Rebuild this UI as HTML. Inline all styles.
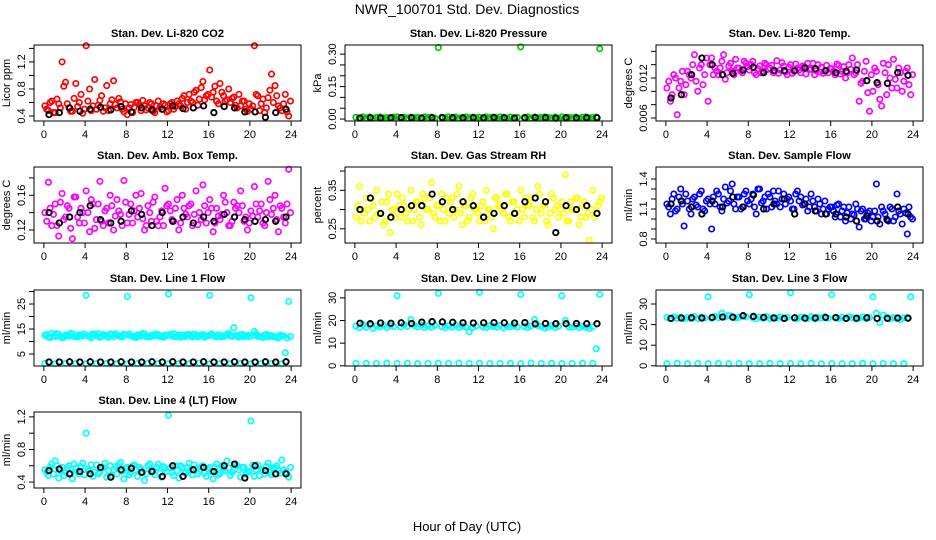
<!DOCTYPE html>
<html><head><meta charset="utf-8"><style>
body{margin:0;background:#fff;}
svg{display:block;font-family:"Liberation Sans",sans-serif;}
</style></head><body>
<svg id="chart" width="936" height="540" viewBox="0 0 936 540" xmlns="http://www.w3.org/2000/svg">
<rect width="936" height="540" fill="#fff"/>
<text x="467" y="14" font-size="14" text-anchor="middle">NWR_100701  Std. Dev. Diagnostics</text>
<text x="467" y="531" font-size="13" text-anchor="middle">Hour of Day (UTC)</text>
</svg>
<script>
// ---- data: 72 colored samples (every 1/3 hour), 24 black samples (hourly) ----
const co2Red = [0.55,0.48,0.62, 0.45,0.58,1.20, 0.90,0.52,0.47, 0.88,0.60,0.44, 1.44,0.80,0.55, 0.50,0.63,0.47, 0.85,0.58,0.92, 0.52,0.61,0.46, 0.42,0.57,0.53, 0.60,0.48,0.55, 0.52,0.58,0.45, 0.62,0.50,0.56, 0.48,0.60,0.54, 0.58,0.66,0.50, 0.72,0.60,0.78, 0.65,0.91,0.70, 1.08,0.75,0.62, 0.88,0.70,0.64, 0.60,0.68,0.52, 0.55,0.62,0.47, 0.50,1.44,0.70, 0.58,0.45,0.67, 1.02,0.85,0.55, 0.48,0.72,0.40];
const co2Red2 = [0.50,0.60,0.45, 0.65,0.52,0.84, 0.58,0.47,0.66, 0.54,0.72,0.50, 0.62,0.48,0.94, 0.56,0.70,0.52, 0.48,0.64,0.57, 0.66,0.50,0.58, 0.52,0.45,0.60, 0.57,0.63,0.49, 0.60,0.47,0.55, 0.53,0.58,0.46, 0.58,0.50,0.62, 0.55,0.70,0.60, 0.62,0.75,0.56, 0.82,0.64,0.72, 0.68,0.84,0.58, 0.75,0.62,0.80, 0.66,0.56,0.72, 0.62,0.50,0.58, 0.55,0.72,0.48, 0.65,0.52,0.78, 0.60,0.70,0.52, 0.58,0.46,0.62];
const co2Black = [0.42,0.45,0.52,0.47,0.50,0.53,0.49,0.54,0.46,0.52,0.49,0.50,0.55,0.51,0.52,0.55,0.45,0.54,0.52,0.46,0.46,0.38,0.45,0.50];
const presGreen = [0.008,0.005,0.010, 0.006,0.009,0.004, 0.008,0.010,0.006, 0.007,0.005,0.009, 0.010,0.006,0.008, 0.005,0.009,0.007, 0.008,0.006,0.010, 0.007,0.009,0.005, 0.330,0.008,0.006, 0.010,0.007,0.009, 0.005,0.008,0.010, 0.006,0.009,0.007, 0.008,0.005,0.010, 0.007,0.009,0.006, 0.010,0.008,0.005, 0.009,0.006,0.008, 0.333,0.007,0.010, 0.005,0.009,0.006, 0.008,0.010,0.007, 0.006,0.009,0.005, 0.010,0.007,0.008, 0.006,0.009,0.005, 0.008,0.010,0.006, 0.007,0.009,0.325];
const presBlack = [0.005,0.006,0.005,0.006,0.007,0.006,0.005,0.006,0.007,0.006,0.005,0.006,0.006,0.007,0.006,0.005,0.006,0.007,0.006,0.004,0.006,0.005,0.006,0.006];
const tempMag = [0.0105,0.0085,0.0125, 0.0065,0.0115,0.0095, 0.0130,0.0120,0.0155, 0.0100,0.0140,0.0125, 0.0085,0.0150,0.0135, 0.0125,0.0145,0.0118, 0.0138,0.0130,0.0148, 0.0135,0.0128,0.0142, 0.0132,0.0145,0.0125, 0.0138,0.0130,0.0140, 0.0135,0.0128,0.0146, 0.0132,0.0138,0.0125, 0.0140,0.0130,0.0135, 0.0128,0.0137,0.0142, 0.0133,0.0125,0.0140, 0.0136,0.0130,0.0128, 0.0134,0.0125,0.0139, 0.0130,0.0120,0.0140, 0.0150,0.0128,0.0085, 0.0115,0.0145,0.0070, 0.0100,0.0130,0.0088, 0.0142,0.0095,0.0120, 0.0148,0.0105,0.0128, 0.0115,0.0135,0.0095];
const tempMag2 = [0.0115,0.0095,0.0120, 0.0105,0.0130,0.0110, 0.0125,0.0140,0.0115, 0.0135,0.0110,0.0150, 0.0140,0.0125,0.0130, 0.0135,0.0155,0.0128, 0.0142,0.0125,0.0135, 0.0130,0.0145,0.0137, 0.0140,0.0128,0.0134, 0.0128,0.0142,0.0133, 0.0139,0.0131,0.0127, 0.0143,0.0129,0.0136, 0.0127,0.0141,0.0132, 0.0138,0.0126,0.0133, 0.0142,0.0131,0.0129, 0.0127,0.0139,0.0134, 0.0130,0.0141,0.0126, 0.0137,0.0128,0.0133, 0.0125,0.0140,0.0112, 0.0130,0.0098,0.0125, 0.0135,0.0110,0.0078, 0.0128,0.0140,0.0105, 0.0118,0.0135,0.0100, 0.0130,0.0110,0.0125];
const tempBlack = [0.0090,0.0095,0.0125,0.0150,0.0140,0.0125,0.0127,0.0132,0.0136,0.0128,0.0131,0.0131,0.0131,0.0135,0.0134,0.0131,0.0128,0.0130,0.0132,0.0116,0.0113,0.0112,0.0128,0.0124];
const boxMag = [0.140,0.175,0.125, 0.150,0.113,0.162, 0.135,0.145,0.110, 0.158,0.128,0.140, 0.165,0.118,0.150, 0.132,0.176,0.125, 0.145,0.160,0.120, 0.155,0.138,0.177, 0.128,0.150,0.142, 0.135,0.162,0.120, 0.148,0.130,0.158, 0.125,0.142,0.168, 0.150,0.132,0.145, 0.120,0.160,0.138, 0.148,0.125,0.165, 0.140,0.172,0.128, 0.155,0.118,0.145, 0.132,0.160,0.140, 0.125,0.152,0.148, 0.165,0.130,0.120, 0.142,0.170,0.135, 0.150,0.125,0.176, 0.138,0.160,0.118, 0.145,0.128,0.190];
const boxMag2 = [0.130,0.145,0.138, 0.125,0.152,0.132, 0.148,0.122,0.158, 0.135,0.145,0.128, 0.140,0.155,0.122, 0.150,0.130,0.142, 0.128,0.148,0.136, 0.142,0.125,0.152, 0.138,0.128,0.160, 0.145,0.133,0.125, 0.140,0.152,0.130, 0.135,0.125,0.148, 0.142,0.130,0.155, 0.128,0.145,0.135, 0.150,0.138,0.126, 0.132,0.148,0.140, 0.145,0.128,0.136, 0.138,0.152,0.125, 0.130,0.145,0.140, 0.148,0.135,0.128, 0.136,0.150,0.142, 0.128,0.140,0.155, 0.145,0.132,0.148, 0.135,0.150,0.140];
const boxBlack = [0.140,0.128,0.135,0.140,0.148,0.132,0.128,0.130,0.142,0.138,0.125,0.140,0.130,0.135,0.128,0.135,0.130,0.138,0.135,0.132,0.130,0.132,0.130,0.135];
const rhYellow = [0.28,0.36,0.30, 0.33,0.27,0.31, 0.35,0.29,0.26, 0.32,0.24,0.30, 0.34,0.28,0.31, 0.27,0.35,0.30, 0.32,0.26,0.33, 0.30,0.37,0.28, 0.31,0.34,0.27, 0.29,0.33,0.30, 0.36,0.26,0.31, 0.28,0.34,0.30, 0.27,0.32,0.35, 0.30,0.25,0.33, 0.31,0.29,0.34, 0.27,0.32,0.30, 0.35,0.28,0.31, 0.33,0.27,0.36, 0.29,0.31,0.26, 0.34,0.30,0.28, 0.32,0.39,0.27, 0.30,0.33,0.26, 0.31,0.28,0.22, 0.35,0.29,0.32];
const rhYellow2 = [0.31,0.27,0.29, 0.30,0.33,0.28, 0.29,0.32,0.27, 0.34,0.30,0.28, 0.31,0.33,0.29, 0.30,0.27,0.32, 0.28,0.34,0.30, 0.33,0.29,0.31, 0.27,0.30,0.33, 0.32,0.28,0.34, 0.29,0.31,0.27, 0.33,0.30,0.29, 0.31,0.27,0.30, 0.28,0.33,0.31, 0.30,0.34,0.28, 0.32,0.29,0.27, 0.30,0.33,0.31, 0.28,0.30,0.34, 0.31,0.27,0.29, 0.33,0.31,0.30, 0.29,0.27,0.32, 0.30,0.33,0.28, 0.32,0.29,0.30, 0.28,0.31,0.33];
const rhBlack = [0.30,0.33,0.29,0.28,0.30,0.31,0.31,0.34,0.32,0.30,0.32,0.31,0.28,0.29,0.31,0.29,0.32,0.33,0.32,0.24,0.31,0.30,0.31,0.29];
const flowBlue = [1.15,1.05,1.25, 1.10,1.30,0.93, 1.18,1.05,1.22, 1.12,1.28,1.08, 1.20,0.90,1.15, 1.25,1.08,1.32, 1.18,1.35,1.10, 1.22,1.12,1.28, 1.15,1.25,1.05, 1.30,1.18,1.10, 1.22,1.28,1.15, 1.12,1.25,1.20, 1.18,1.10,1.28, 1.22,1.15,1.08, 1.25,1.12,1.20, 1.05,1.18,1.10, 1.12,1.02,1.15, 1.08,0.98,1.12, 1.05,1.15,0.92, 1.10,1.00,1.08, 1.02,1.35,0.95, 1.08,1.00,1.12, 0.98,1.25,1.05, 1.10,0.85,1.02];
const flowBlue2 = [1.12,1.20,1.08, 1.22,1.15,1.25, 1.10,1.20,1.14, 1.25,1.10,1.18, 1.15,1.22,1.28, 1.12,1.20,1.16, 1.28,1.15,1.22, 1.10,1.25,1.18, 1.20,1.12,1.30, 1.16,1.22,1.25, 1.12,1.18,1.28, 1.20,1.15,1.22, 1.10,1.25,1.18, 1.14,1.20,1.12, 1.18,1.08,1.15, 1.10,1.05,1.12, 1.08,1.14,1.02, 1.12,1.06,1.00, 1.04,1.10,1.08, 1.00,1.06,0.98, 1.08,1.02,1.12, 1.05,0.98,1.10, 1.02,1.08,0.95, 1.06,1.12,1.00];
const flowBlack = [1.15,1.18,1.12,1.05,1.18,1.12,1.22,1.12,1.24,1.10,1.15,1.20,1.05,1.15,1.08,1.05,1.05,1.02,0.98,1.03,0.98,0.99,1.12,1.05];
const line1Cyan = [12.5,11.8,13.2, 12.0,12.9,11.5, 12.6,12.2,13.0, 11.9,12.7,12.3, 28.5,12.1,13.1, 12.4,11.7,12.8, 12.2,13.0,11.9, 12.6,12.0,12.9, 28.0,12.3,11.8, 12.7,12.1,13.0, 11.9,12.5,12.2, 12.8,12.0,12.6, 29.0,12.2,11.9, 12.7,12.4,12.0, 12.9,11.8,12.5, 12.2,12.8,12.1, 28.5,12.4,11.9, 12.6,12.0,12.8, 12.3,15.5,12.1, 12.7,11.9,12.5, 27.5,14.0,12.2, 12.0,12.6,11.8, 12.4,12.0,11.5, 12.2,5.5,26.0];
const line1Cyan2 = [12.8,11.6,12.3, 13.1,12.0,11.7, 12.4,13.3,12.1, 11.8,12.6,13.0, 12.2,11.5,12.9, 13.2,12.0,12.5, 11.7,12.8,13.1, 12.3,11.9,12.6, 13.0,12.2,11.6, 12.5,13.2,12.0, 11.8,12.7,13.0, 12.1,11.7,12.4, 12.9,13.1,12.0, 11.6,12.5,12.8, 12.2,13.0,11.9, 12.6,11.7,12.3, 13.1,12.0,12.7, 11.8,12.4,13.2, 12.0,12.6,11.7, 12.9,12.2,11.9, 12.5,13.0,12.1, 11.6,12.8,12.3, 12.0,11.7,12.6, 12.2,11.4,12.0];
const line1Low = [1.2,1.1,1.3,1.2,1.1,1.2,1.3,1.2,1.1,1.2,1.3,1.2,1.1,1.2,1.2,1.3,1.1,1.2,1.2,1.3,1.1,1.2,1.2,1.1];
const line1Black = [1.8,1.8,1.9,1.8,1.9,1.8,1.8,1.9,1.8,1.8,1.9,1.8,1.9,1.8,1.8,1.9,1.8,1.8,1.9,1.8,1.8,1.9,1.8,1.9];
const line2Cyan = [17.5,16.8,18.2, 17.0,17.9,16.6, 17.6,17.2,18.0, 16.9,17.7,17.3, 31.0,17.1,18.1, 17.4,20.5,17.8, 17.2,18.0,16.9, 17.6,17.0,17.9, 32.0,17.3,16.8, 17.7,17.1,18.0, 16.9,17.5,17.2, 15.0,17.0,17.6, 32.5,17.2,16.9, 17.7,17.4,17.0, 17.9,16.8,17.5, 17.2,17.8,17.1, 31.5,17.4,16.9, 17.6,20.5,17.8, 17.3,16.7,17.1, 17.7,16.9,17.5, 31.0,20.0,17.2, 17.0,17.6,16.8, 17.4,17.0,16.5, 17.2,7.5,31.5];
const line2Low = [1.0,1.1,1.0,1.2,1.0,1.1,1.0,1.0,1.1,1.0,1.2,1.0,1.1,1.0,1.0,1.1,1.0,1.2,1.0,1.1,1.0,1.0,1.1,1.0];
const line2Black = [18.8,18.6,18.9,18.8,19.0,18.7,19.3,19.5,19.4,19.2,19.0,18.9,19.0,19.1,19.0,18.9,19.1,18.5,18.7,18.6,18.6,18.7,18.6,18.6];
const line3Cyan = [23.5,22.9,23.8, 23.1,23.6,22.8, 23.4,23.0,23.9, 22.9,23.6,23.2, 33.5,23.1,24.0, 23.4,25.5,23.7, 24.5,23.9,23.2, 23.5,24.2,23.8, 34.5,23.3,22.8, 23.7,23.1,23.9, 22.9,23.5,23.2, 23.8,23.0,23.6, 35.5,23.2,22.9, 23.7,23.4,23.0, 23.9,22.8,23.5, 23.2,23.8,23.1, 34.5,23.4,22.9, 23.6,23.0,23.8, 23.3,22.7,23.1, 23.7,22.9,23.5, 33.5,25.5,21.0, 24.5,23.6,22.8, 23.4,23.0,22.5, 23.2,23.5,33.5];
const line3Low = [1.0,1.2,1.0,1.1,1.0,1.2,1.0,1.1,1.0,1.0,1.2,1.0,1.1,1.0,1.2,1.0,1.1,1.0,1.0,1.2,1.0,1.1,1.0,1.0];
const line3Black = [23.0,23.2,23.3,23.2,23.5,23.7,23.6,24.3,24.0,23.5,23.2,23.0,23.3,23.1,23.2,23.5,23.4,23.0,23.1,23.3,23.0,23.0,23.2,23.1];
const line4Cyan = [0.55,0.48,0.62, 0.66,0.45,0.58, 0.52,0.60,0.44, 0.57,0.50,0.63, 1.00,0.54,0.47, 0.61,0.52,0.58, 0.46,0.60,0.55, 0.50,0.64,0.44, 0.58,0.52,0.61, 0.47,0.56,0.42, 0.60,0.53,0.49, 0.62,0.46,0.57, 1.22,0.52,0.60, 0.45,0.58,0.51, 0.63,0.49,0.56, 0.53,0.60,0.47, 0.58,0.44,0.62, 0.51,0.57,0.66, 0.48,0.55,0.60, 0.46,0.58,0.52, 1.15,0.47,0.61, 0.55,0.50,0.63, 0.49,0.58,0.54, 0.67,0.52,0.46];
const line4Cyan2 = [0.52,0.58,0.50, 0.60,0.54,0.48, 0.57,0.51,0.62, 0.53,0.59,0.49, 0.56,0.61,0.52, 0.50,0.57,0.63, 0.54,0.48,0.59, 0.61,0.53,0.57, 0.49,0.60,0.55, 0.58,0.52,0.50, 0.62,0.55,0.58, 0.51,0.59,0.53, 0.57,0.48,0.54, 0.60,0.52,0.58, 0.55,0.61,0.50, 0.59,0.51,0.56, 0.53,0.58,0.49, 0.60,0.54,0.57, 0.52,0.62,0.55, 0.58,0.50,0.53, 0.61,0.55,0.48, 0.54,0.59,0.52, 0.57,0.60,0.51, 0.55,0.50,0.58];
const line4Black = [0.54,0.56,0.50,0.53,0.50,0.58,0.46,0.55,0.57,0.52,0.53,0.47,0.60,0.47,0.55,0.58,0.53,0.60,0.62,0.45,0.60,0.54,0.50,0.50];

const hoursTicks = [0,4,8,12,16,20,24];

// ---- layout ----
const colX = [34, 345, 656];
const rowY = [45, 167, 290, 412];
const PW = 267, PH = 76;
const XMIN = -0.96, XMAX = 24.96;

const panels = [
 {name:'co2', title:'Stan. Dev. Li-820 CO2', ylab:'Licor ppm', c:0, r:0, ymin:0.326, ymax:1.45, ticks:[0.4,0.6,0.8,1.0,1.2,1.4], labels:[0.4,0.8,1.2], fmt:1, series:[[co2Red,'#ff0000',0.1],[co2Red2,'#ff0000',0.27],[co2Black,'#000',0.5]]},
 {name:'pressure', title:'Stan. Dev. Li-820 Pressure', ylab:'kPa', c:1, r:0, ymin:-0.009, ymax:0.342, ticks:[0,0.05,0.1,0.15,0.2,0.25,0.3], labels:[0,0.15,0.3], fmt:2, series:[[presGreen,'#00cc00',0.1],[presBlack,'#000',0.5]]},
 {name:'li820-temp', title:'Stan. Dev. Li-820 Temp.', ylab:'degrees C', c:2, r:0, ymin:0.00555, ymax:0.01695, ticks:[0.006,0.008,0.010,0.012,0.014,0.016], labels:[0.006,0.012], fmt:3, series:[[tempMag,'#ff00ff',0.1],[tempMag2,'#ff00ff',0.27],[tempBlack,'#000',0.5]]},
 {name:'amb-box-temp', title:'Stan. Dev. Amb. Box Temp.', ylab:'degrees C', c:0, r:1, ymin:0.105, ymax:0.1926, ticks:[0.12,0.14,0.16,0.18], labels:[0.12,0.16], fmt:2, series:[[boxMag,'#ff00ff',0.1],[boxMag2,'#ff00ff',0.27],[boxBlack,'#000',0.5]]},
 {name:'gas-stream-rh', title:'Stan. Dev. Gas Stream RH', ylab:'percent', c:1, r:1, ymin:0.213, ymax:0.4105, ticks:[0.25,0.30,0.35,0.40], labels:[0.25,0.35], fmt:2, series:[[rhYellow,'#ffff00',0.1],[rhYellow2,'#ffff00',0.27],[rhBlack,'#000',0.5]]},
 {name:'sample-flow', title:'Stan. Dev. Sample Flow', ylab:'ml/min', c:2, r:1, ymin:0.76, ymax:1.52, ticks:[0.8,0.9,1.0,1.1,1.2,1.3,1.4], labels:[0.8,1.1,1.4], fmt:1, series:[[flowBlue,'#0000ff',0.1],[flowBlue2,'#0000ff',0.27],[flowBlack,'#000',0.5]]},
 {name:'line1-flow', title:'Stan. Dev. Line 1 Flow', ylab:'ml/min', c:0, r:2, ymin:0.2, ymax:30.6, ticks:[5,10,15,20,25,30], labels:[5,15,25], fmt:0, series:[[line1Cyan,'#00ffff',0.1],[line1Cyan2,'#00ffff',0.27],[line1Low,'#00ffff',0.1],[line1Black,'#000',0.5]]},
 {name:'line2-flow', title:'Stan. Dev. Line 2 Flow', ylab:'ml/min', c:1, r:2, ymin:-0.1, ymax:33.5, ticks:[0,10,20,30], labels:[0,10,20,30], fmt:0, series:[[line2Cyan,'#00ffff',0.1],[line2Low,'#00ffff',0.1],[line2Black,'#000',0.5]]},
 {name:'line3-flow', title:'Stan. Dev. Line 3 Flow', ylab:'ml/min', c:2, r:2, ymin:-0.1, ymax:36.8, ticks:[0,10,20,30], labels:[0,10,20,30], fmt:0, series:[[line3Cyan,'#00ffff',0.1],[line3Low,'#00ffff',0.1],[line3Black,'#000',0.5]]},
 {name:'line4-flow', title:'Stan. Dev. Line 4 (LT) Flow', ylab:'ml/min', c:0, r:3, ymin:0.327, ymax:1.26, ticks:[0.4,0.6,0.8,1.0,1.2], labels:[0.4,0.8,1.2], fmt:1, series:[[line4Cyan,'#00ffff',0.1],[line4Cyan2,'#00ffff',0.27],[line4Black,'#000',0.5]]}
];

const NS = 'http://www.w3.org/2000/svg';
const svg = document.getElementById('chart');
function mk(tag, attrs, parent){
  const e = document.createElementNS(NS, tag);
  for (const k in attrs) e.setAttribute(k, attrs[k]);
  (parent||svg).appendChild(e);
  return e;
}

panels.forEach(p => {
  const L = colX[p.c], T = rowY[p.r];
  const xs = v => L + (v - XMIN) / (XMAX - XMIN) * PW;
  const ys = v => T + PH - (v - p.ymin) / (p.ymax - p.ymin) * PH;
  const g = mk('g', {});
  
  

  const t = mk('text', {x: L + PW/2, y: T - 8, 'font-size': 11, 'font-weight': 'bold', 'text-anchor': 'middle'}, g);
  t.textContent = p.title;
  
  

  p.series.forEach(s => {
    const vals = s[0], n = vals.length, black = s[1] === '#000';
    const sg = mk('g', {fill: 'none', stroke: s[1], 'stroke-width': black ? 1.9 : 1.7}, g);
    
    
    vals.forEach((v, i) => {
      const h = n === 72 ? i / 3 + s[2] : i + s[2];
      const c = mk('circle', {cx: xs(h).toFixed(1), cy: ys(v).toFixed(1), r: 2.7}, sg);
      
      
    });
  });

  const box = mk('rect', {x: L, y: T, width: PW, height: PH, fill: 'none', stroke: '#000', 'stroke-width': 1}, g);
  
  

  const xa = mk('g', {stroke: '#000', 'stroke-width': 1}, g);
  
  
  mk('line', {x1: xs(0), x2: xs(24), y1: T + PH, y2: T + PH}, xa);
  hoursTicks.forEach(h => {
    mk('line', {x1: xs(h), x2: xs(h), y1: T + PH, y2: T + PH + 5}, xa);
    const tl = mk('text', {x: xs(h), y: T + PH + 17, 'font-size': 11, 'text-anchor': 'middle', stroke: 'none'}, xa);
    tl.textContent = h;
    
    
  });

  const ya = mk('g', {stroke: '#000', 'stroke-width': 1}, g);
  
  
  mk('line', {x1: L, x2: L, y1: ys(p.ticks[0]), y2: ys(p.ticks[p.ticks.length-1])}, ya);
  p.ticks.forEach(v => {
    mk('line', {x1: L - 5, x2: L, y1: ys(v), y2: ys(v)}, ya);
  });
  p.labels.forEach(v => {
    const yy = ys(v), xx = L - 9;
    const tl = mk('text', {x: xx, y: yy, 'font-size': 11, 'text-anchor': 'middle', stroke: 'none', transform: `rotate(-90 ${xx} ${yy})`}, ya);
    tl.textContent = v.toFixed(p.fmt);
    
    
  });
  const yx = L - 24, yy = T + PH/2;
  const yl = mk('text', {x: yx, y: yy, 'font-size': 11, 'text-anchor': 'middle', transform: `rotate(-90 ${yx} ${yy})`}, g);
  yl.textContent = p.ylab;
  
  
});
</script>
</body></html>
